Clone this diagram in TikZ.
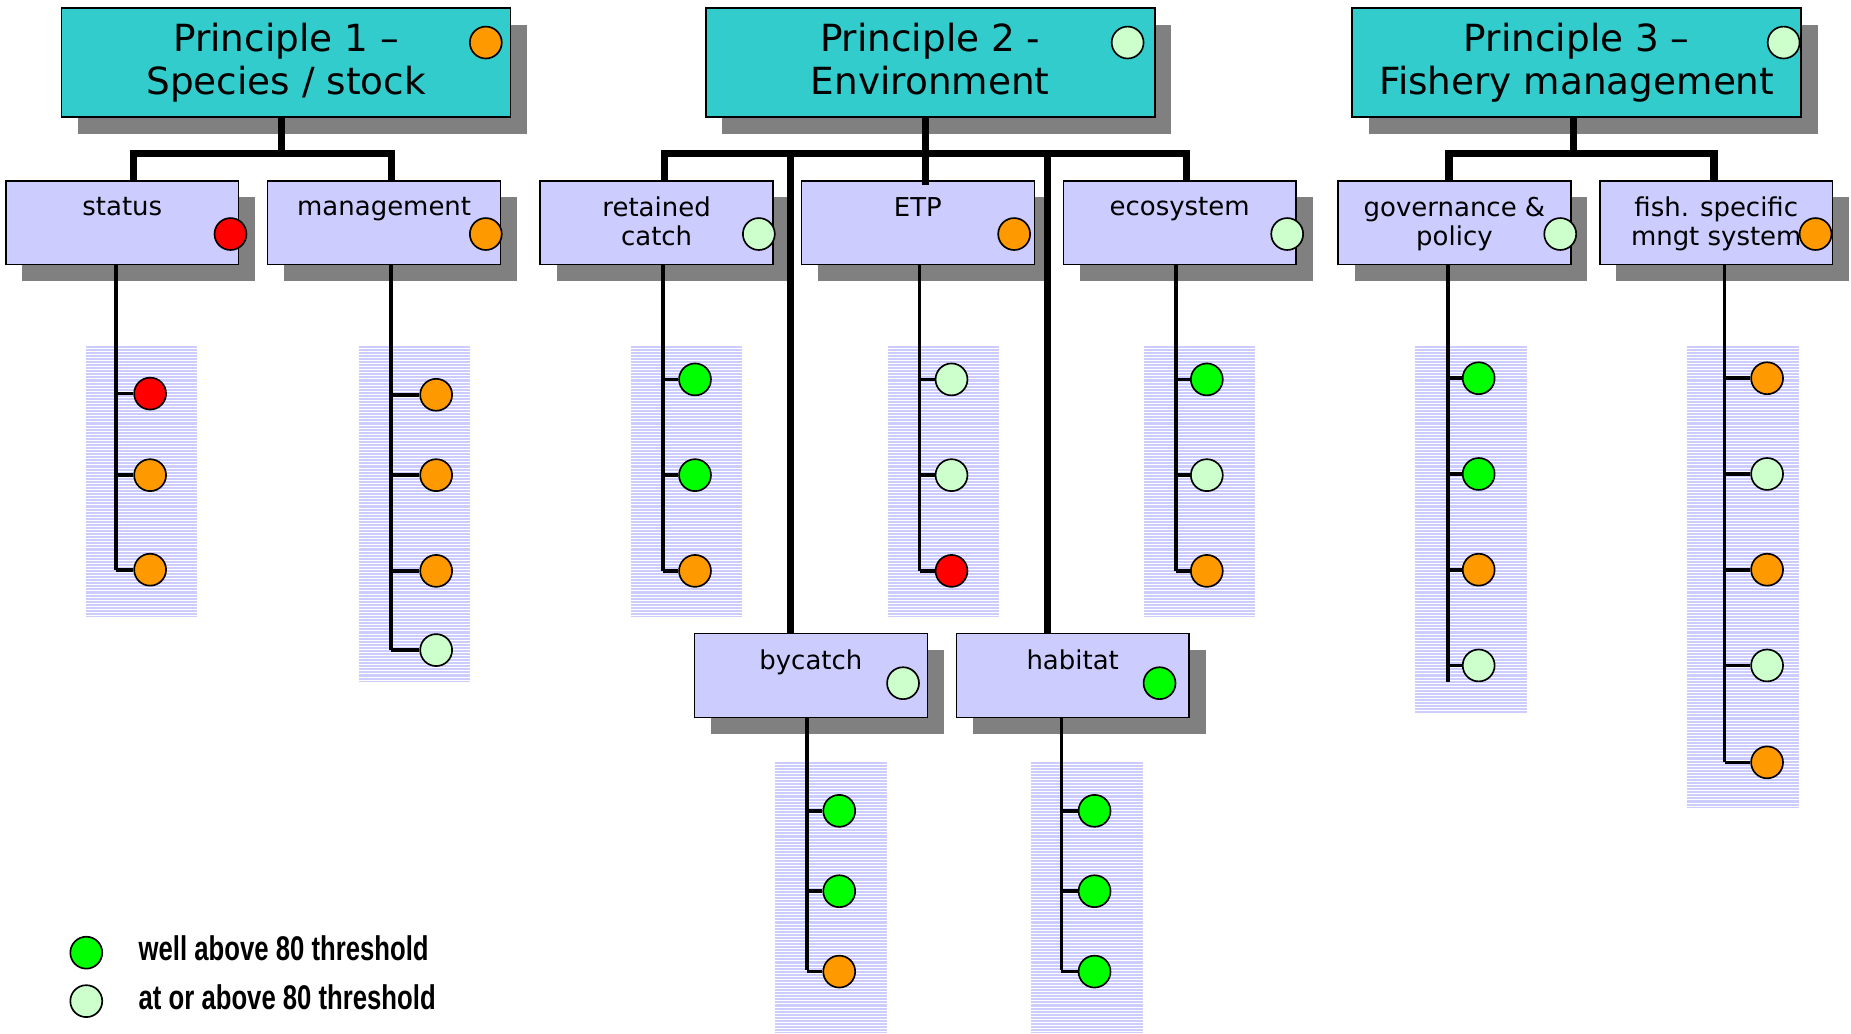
\documentclass[tikz,border=0pt]{standalone}
\usepackage{fontspec}
\setmainfont{DejaVu Sans}
\newfontfamily\legendfont[FakeStretch=0.75]{Liberation Sans}
\usepackage{xcolor}
\usepackage{tikz}
\usetikzlibrary{shapes,shadows,positioning}

\definecolor{titleteal}{HTML}{33CCCC}
\definecolor{boxlav}{HTML}{CCCCFF}
\definecolor{shadowgray}{HTML}{808080}
\definecolor{scred}{HTML}{FF0000}
\definecolor{scorange}{HTML}{FF9900}
\definecolor{scgreen}{HTML}{00FF00}
\definecolor{scpale}{HTML}{CCFFCC}

\begin{document}
\begin{tikzpicture}[
    x=0.02cm, y=-0.02cm,
    title/.style={draw, rectangle, fill=titleteal, line width=0.8pt, minimum width=7.6cm, minimum height=1.84cm, inner sep=0pt, align=center, font=\fontsize{18}{20.5}\selectfont, drop shadow={shadow xshift=0.28cm, shadow yshift=-0.28cm, opacity=1, fill=shadowgray}},
    box/.style={draw, rectangle, fill=boxlav, line width=0.7pt, minimum width=3.94cm, minimum height=1.42cm, inner sep=0pt, drop shadow={shadow xshift=0.28cm, shadow yshift=-0.28cm, opacity=1, fill=shadowgray}},
    lbl/.style={anchor=north, inner sep=0pt, yshift=-0.28cm, align=center, font=\fontsize{12.5}{13.8}\selectfont},
    dot/.style={draw, circle, line width=0.8pt, minimum size=0.54cm, inner sep=0pt},
    bar/.style={line width=3.6pt, line join=miter},
    trunk/.style={line width=1.8pt},
    hatchline/.style={white, line width=0.15pt},
    legendtxt/.style={inner sep=0pt, font=\legendfont\bfseries\fontsize{16.5}{18}\selectfont}
]
    \useasboundingbox (0,0) rectangle (1566,874);

    % hatched columns
    \foreach \xa/\ya/\xb/\yb in {73/293/167/522, 304/293/398/577, 534/293/628/522, 751/293/845/522, 968/293/1062/522, 1197/293/1292/604, 1427/293/1522/684, 656/645/750/874, 872/645/967/874} {
        \fill[boxlav] (\xa,\ya) rectangle (\xb,\yb);
        \pgfmathsetmacro{\ys}{\ya+1.3}
        \pgfmathsetmacro{\yn}{\ya+3.9}
        \foreach \yy in {\ys,\yn,...,\yb}
            \draw[hatchline] (\xa,\yy) -- (\xb,\yy);
    }

    % principles
    \node[title] (p1) at (242,53) {Principle 1 --\\Species / stock};
    \node[title] (p2) at (787,53) {Principle 2 -\\Environment\vphantom{p}};
    \node[title] (p3) at (1334,53) {Principle 3 --\\Fishery management};
    \node[dot, fill=scorange] (p1dot) at (411,36) {};
    \node[dot, fill=scpale] (p2dot) at (954,36) {};
    \node[dot, fill=scpale] (p3dot) at (1509,36) {};

    % components
    \node[box, label={[lbl]north:status}] (status) at (103.5,188.5) {};
    \node[box, label={[lbl]north:management}] (management) at (325,188.5) {};
    \node[box, label={[lbl]north:{retained\\catch}}] (retained) at (555.5,188.5) {};
    \node[box, label={[lbl]north:ETP}] (etp) at (776.5,188.5) {};
    \node[box, label={[lbl]north:ecosystem}] (ecosystem) at (998,188.5) {};
    \node[box, label={[lbl]north:{governance \&\\policy}}] (governance) at (1230.5,188.5) {};
    \node[box, label={[lbl]north:{fish. specific\\mngt system}}] (fishmngt) at (1452,188.5) {};
    \node[box, label={[lbl]north:bycatch}] (bycatch) at (686,571.5) {};
    \node[box, label={[lbl]north:habitat}] (habitat) at (907.5,571.5) {};

    \node[dot, fill=scred] (statusdot) at (195,198) {};
    \node[dot, fill=scorange] (managementdot) at (411,198) {};
    \node[dot, fill=scpale] (retaineddot) at (642,198) {};
    \node[dot, fill=scorange] (etpdot) at (858,198) {};
    \node[dot, fill=scpale] (ecosystemdot) at (1089,198) {};
    \node[dot, fill=scpale] (governancedot) at (1320,198) {};
    \node[dot, fill=scorange] (fishmngtdot) at (1536,198) {};
    \node[dot, fill=scpale] (bycatchdot) at (764,578) {};
    \node[dot, fill=scgreen] (habitatdot) at (981,578) {};

    % tree
    \coordinate (j1) at (238,130);
    \coordinate (d1a) at (113,130);
    \coordinate (d1b) at (331,130);
    \draw[bar] (j1 |- p1.south) -- (j1);
    \draw[bar] (d1a |- status.north) -- (d1a) -- (d1b) -- (d1b |- management.north);

    \coordinate (j2) at (783,130);
    \coordinate (d2a) at (562,130);
    \coordinate (d2b) at (669,130);
    \coordinate (d2d) at (886,130);
    \coordinate (d2e) at (1004,130);
    \draw[bar] (j2 |- p2.south) -- ([yshift=-0.08cm]j2 |- etp.north);
    \draw[bar] (d2a |- retained.north) -- (d2a) -- (d2e) -- (d2e |- ecosystem.north);
    \draw[bar] (d2b) -- (d2b |- bycatch.north);
    \draw[bar] (d2d) -- (d2d |- habitat.north);

    \coordinate (j3) at (1331,130);
    \coordinate (d3a) at (1226,130);
    \coordinate (d3b) at (1450,130);
    \draw[bar] (j3 |- p3.south) -- (j3);
    \draw[bar] (d3a |- governance.north) -- (d3a) -- (d3b) -- (d3b |- fishmngt.north);

    % indicators
    \coordinate (stT) at (98,482);
    \draw[trunk] (stT |- status.south) -- (stT);
    \foreach \yy/\c [count=\i] in {333/scred, 402/scorange, 482/scorange} {
        \node[dot, fill=\c] (st\i) at (127,\yy) {};
        \draw[trunk] (st\i.west -| stT) -- (st\i.west);
    }

    \coordinate (mgT) at (331,550);
    \draw[trunk] (mgT |- management.south) -- (mgT);
    \foreach \yy/\c [count=\i] in {334/scorange, 402/scorange, 483/scorange, 550/scpale} {
        \node[dot, fill=\c] (mg\i) at (369,\yy) {};
        \draw[trunk] (mg\i.west -| mgT) -- (mg\i.west);
    }

    \coordinate (rcT) at (561,483);
    \draw[trunk] (rcT |- retained.south) -- (rcT);
    \foreach \yy/\c [count=\i] in {321/scgreen, 402/scgreen, 483/scorange} {
        \node[dot, fill=\c] (rc\i) at (588,\yy) {};
        \draw[trunk] (rc\i.west -| rcT) -- (rc\i.west);
    }

    \coordinate (etT) at (778,483);
    \draw[trunk] (etT |- etp.south) -- (etT);
    \foreach \yy/\c [count=\i] in {321/scpale, 402/scpale, 483/scred} {
        \node[dot, fill=\c] (et\i) at (805,\yy) {};
        \draw[trunk] (et\i.west -| etT) -- (et\i.west);
    }

    \coordinate (ecT) at (995,483);
    \draw[trunk] (ecT |- ecosystem.south) -- (ecT);
    \foreach \yy/\c [count=\i] in {321/scgreen, 402/scpale, 483/scorange} {
        \node[dot, fill=\c] (ec\i) at (1021,\yy) {};
        \draw[trunk] (ec\i.west -| ecT) -- (ec\i.west);
    }

    \coordinate (goT) at (1225,577);
    \draw[trunk] (goT |- governance.south) -- (goT);
    \foreach \yy/\c [count=\i] in {320/scgreen, 401/scgreen, 482/scorange, 563/scpale} {
        \node[dot, fill=\c] (go\i) at (1251,\yy) {};
        \draw[trunk] (go\i.west -| goT) -- (go\i.west);
    }

    \coordinate (fmT) at (1459,645);
    \draw[trunk] (fmT |- fishmngt.south) -- (fmT);
    \foreach \yy/\c [count=\i] in {320/scorange, 401/scpale, 482/scorange, 563/scpale, 645/scorange} {
        \node[dot, fill=\c] (fm\i) at (1495,\yy) {};
        \draw[trunk] (fm\i.west -| fmT) -- (fm\i.west);
    }

    \coordinate (bcT) at (683,821);
    \draw[trunk] (bcT |- bycatch.south) -- (bcT);
    \foreach \yy/\c [count=\i] in {686/scgreen, 754/scgreen, 822/scorange} {
        \node[dot, fill=\c] (bc\i) at (710,\yy) {};
        \draw[trunk] (bc\i.west -| bcT) -- (bc\i.west);
    }

    \coordinate (haT) at (898,821);
    \draw[trunk] (haT |- habitat.south) -- (haT);
    \foreach \yy/\c [count=\i] in {686/scgreen, 754/scgreen, 822/scgreen} {
        \node[dot, fill=\c] (ha\i) at (926,\yy) {};
        \draw[trunk] (ha\i.west -| haT) -- (ha\i.west);
    }

    % legend
    \node[dot, fill=scgreen] (lgwell) at (73,806) {};
    \node[dot, fill=scpale] (lgat) at (73,847) {};
    \node[legendtxt, anchor=base west] (lgwelltxt) at (117,813) {well above 80 threshold};
    \node[legendtxt, anchor=base west] (lgattxt) at (117,854) {at or above 80 threshold};
\end{tikzpicture}
\end{document}
